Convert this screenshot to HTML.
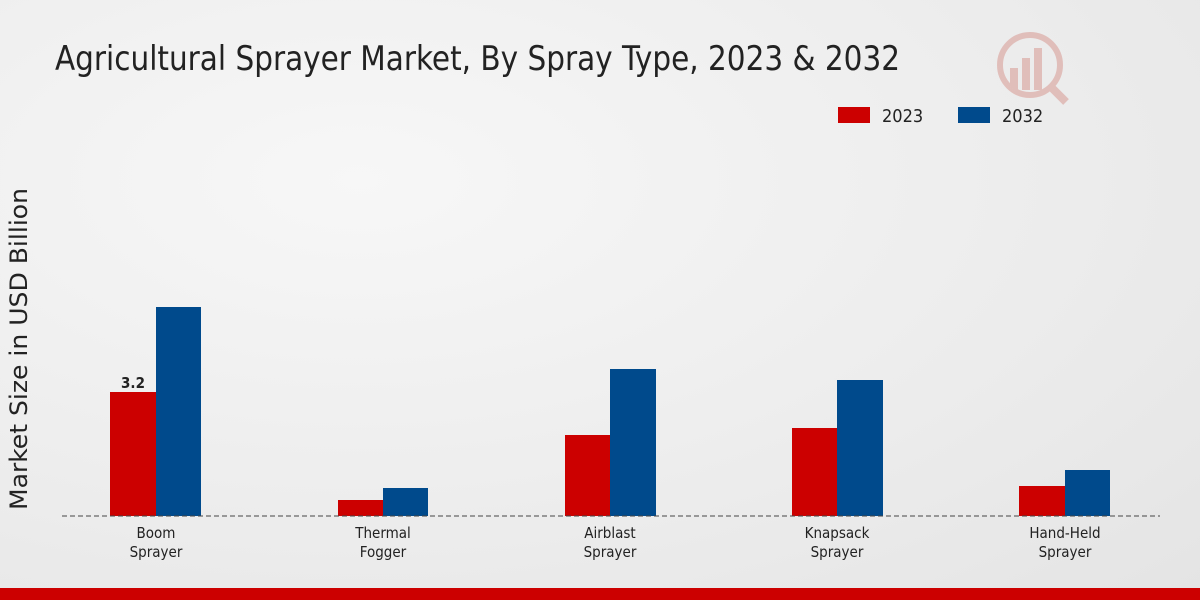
<!DOCTYPE html>
<html><head><meta charset="utf-8"><style>
html,body{margin:0;padding:0;width:1200px;height:600px;overflow:hidden}
body{background:radial-gradient(ellipse at 30% 30%,#f7f7f7 0%,#ececec 60%,#e4e4e4 100%);font-family:"DejaVu Sans Condensed","Liberation Sans",sans-serif}
</style></head><body>
<svg width="1200" height="600" xmlns="http://www.w3.org/2000/svg" style="position:absolute;left:0;top:0">
<text x="55" y="70" font-size="34" fill="#222" textLength="845" lengthAdjust="spacingAndGlyphs" font-family="DejaVu Sans Condensed, Liberation Sans, sans-serif">Agricultural Sprayer Market, By Spray Type, 2023 &amp; 2032</text>
<g opacity="0.25" fill="#c0392b"><circle cx="1030" cy="65" r="30" fill="none" stroke="#c0392b" stroke-width="6"/><rect x="1010" y="68" width="8" height="22"/><rect x="1022" y="58" width="8" height="32"/><rect x="1034" y="48" width="8" height="42"/><line x1="1052" y1="88" x2="1066" y2="102" stroke="#c0392b" stroke-width="8"/></g>
<rect x="838" y="107" width="32" height="16" fill="#cc0000"/>
<text x="882" y="122" font-size="18" fill="#222">2023</text>
<rect x="958" y="107" width="32" height="16" fill="#004a8c"/>
<text x="1002" y="122" font-size="18" fill="#222">2032</text>
<text transform="translate(27,349) rotate(-90)" text-anchor="middle" font-size="24" fill="#222" textLength="322" lengthAdjust="spacingAndGlyphs">Market Size in USD Billion</text>
<g fill="#cc0000">
<rect x="110" y="392" width="46" height="124"/>
<rect x="338" y="500" width="45" height="16"/>
<rect x="565" y="435" width="45" height="81"/>
<rect x="792" y="428" width="45" height="88"/>
<rect x="1019" y="486" width="46" height="30"/>
</g>
<g fill="#004a8c">
<rect x="156" y="307" width="45" height="209"/>
<rect x="383" y="488" width="45" height="28"/>
<rect x="610" y="369" width="46" height="147"/>
<rect x="837" y="380" width="46" height="136"/>
<rect x="1065" y="470" width="45" height="46"/>
</g>
<line x1="62" y1="516" x2="1160" y2="516" stroke="#444" stroke-width="1" stroke-dasharray="5,3"/>
<text x="133" y="388" text-anchor="middle" font-size="15" font-weight="bold" fill="#222">3.2</text>
<g font-size="15" fill="#222" text-anchor="middle">
<text x="156" y="538">Boom</text><text x="156" y="557">Sprayer</text>
<text x="383" y="538">Thermal</text><text x="383" y="557">Fogger</text>
<text x="610" y="538">Airblast</text><text x="610" y="557">Sprayer</text>
<text x="837" y="538">Knapsack</text><text x="837" y="557">Sprayer</text>
<text x="1065" y="538">Hand-Held</text><text x="1065" y="557">Sprayer</text>
</g>
<rect x="0" y="588" width="1200" height="12" fill="#cc0000"/>
</svg>
</body></html>
